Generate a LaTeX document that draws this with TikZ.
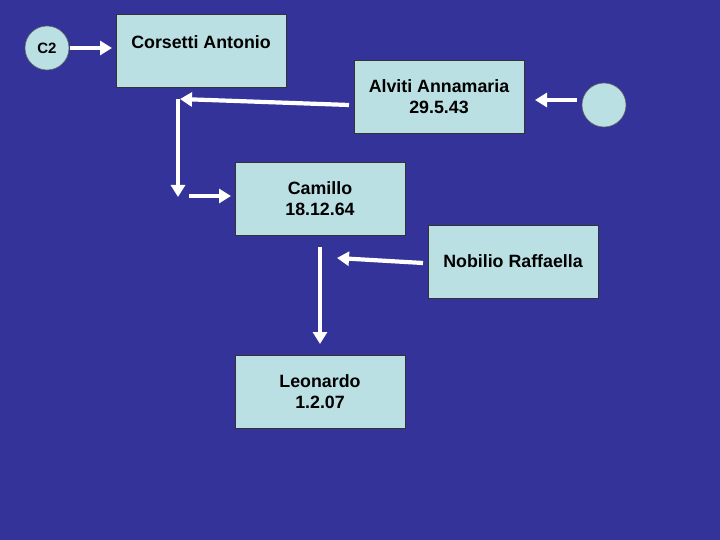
\documentclass[tikz,border=0pt]{standalone}
\usepackage{fontspec}
\setmainfont{Liberation Sans}
\usetikzlibrary{arrows.meta}
\definecolor{bg}{HTML}{333399}
\definecolor{boxfill}{HTML}{BBE0E3}
\begin{document}
\begin{tikzpicture}[x=1pt,y=-1pt,
  txt/.style={align=center,inner sep=0pt,font=\bfseries\fontsize{17.8}{21.5}\selectfont},
  person/.style={txt,draw=black!80,line width=0.8pt,fill=boxfill,minimum width=170pt,minimum height=73pt},
  marker/.style={circle,draw=black!60,line width=0.6pt,fill=boxfill,minimum size=44pt,inner sep=0pt,font=\bfseries\fontsize{15}{18}\selectfont},
  arr/.style={white,line width=4.2pt,-{Triangle[width=14pt,length=12pt]}}]
\fill[bg] (0,0) rectangle (720,540);
\useasboundingbox (0,0) rectangle (720,540);
\node[person] (cor) at (201,51) {};
\node[txt] (corT) at (201,42) {Corsetti Antonio};
\node[person] (alv) at (439,96.5) {Alviti Annamaria\\29.5.43};
\node[person] (cam) at (320,198.5) {Camillo\\18.12.64};
\node[person] (nob) at (513,261.5) {Nobilio Raffaella};
\node[person] (leo) at (320,391.5) {Leonardo\\1.2.07};
\node[marker] (c2) at (47,48) {C2};
\node[marker] (rc) at (604,105) {};
\coordinate (c2s) at (70,48);
\coordinate (c2e) at (112,48);
\coordinate (r1) at (577,100);
\coordinate (r2) at (535,100);
\coordinate (l1) at (349,105);
\coordinate (a1) at (180,99);
\coordinate (v1) at (178,99);
\coordinate (a2) at (178,197);
\coordinate (a3) at (189,196);
\coordinate (a4) at (231,196);
\coordinate (n1) at (423,263);
\coordinate (b1) at (337,258);
\coordinate (b2) at (320,247);
\coordinate (b3) at (320,344);
\draw[arr] (c2s) -- (c2e);
\draw[arr] (r1) -- (r2);
\draw[arr] (l1) -- (a1);
\draw[arr] (v1) -- (a2);
\draw[arr] (a3) -- (a4);
\draw[arr] (n1) -- (b1);
\draw[arr] (b2) -- (b3);
\end{tikzpicture}
\end{document}
